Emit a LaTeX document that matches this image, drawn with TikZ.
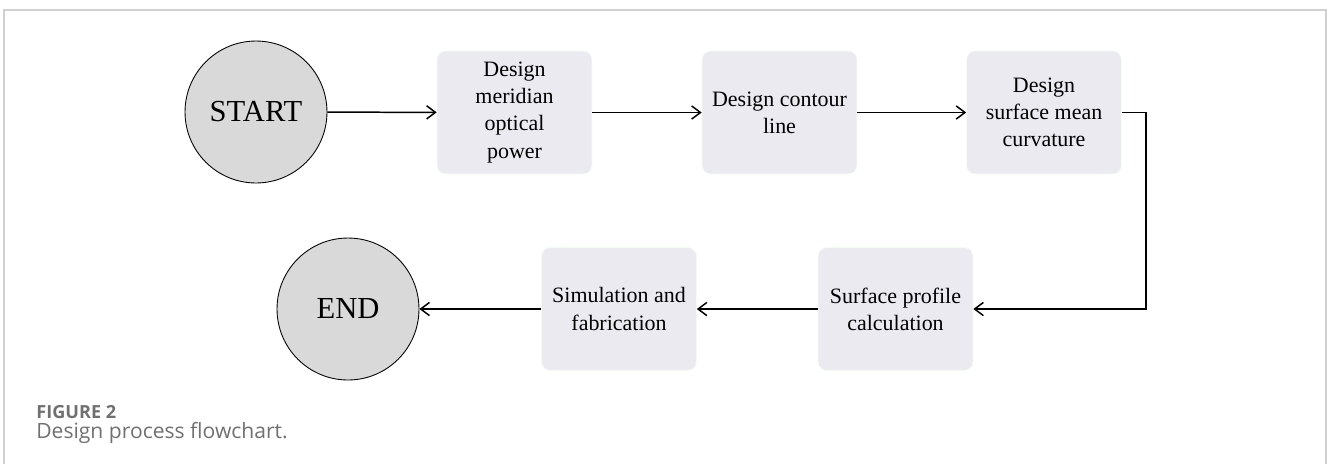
\documentclass[tikz,border=0pt]{standalone}
\usepackage{fontspec}
\setmainfont{Liberation Serif}
\newfontfamily\captionfont{Open Sans}
\usepackage{xcolor}
\usetikzlibrary{arrows.meta,positioning}
\definecolor{stepfill}{RGB}{236,234,241}
\definecolor{termfill}{RGB}{217,217,217}
\definecolor{framegray}{RGB}{208,208,208}
\definecolor{capgray}{RGB}{112,112,112}

\begin{document}
\begin{tikzpicture}[x=0.02cm, y=-0.02cm,
        terminal/.style={circle, draw=black, fill=termfill, line width=0.5pt,
            minimum size=2.84cm, inner sep=0pt, font=\fontsize{17.4}{21}\selectfont},
        stepbox/.style={rectangle, rounded corners=5pt, draw=stepfill!80!green!20,
            fill=stepfill, minimum width=3.1cm, minimum height=2.46cm, inner sep=2pt,
            align=center, font=\fontsize{12.5}{15.4}\selectfont},
        flow/.style={-{Straight Barb[length=5pt,width=7.5pt]}, line width=0.85pt}]
        \useasboundingbox (0,0) rectangle (1328,464);

        % Frame
        \draw[framegray, line width=0.8pt] (4,464) -- (4,10) -- (1326,10) -- (1326,464);

        % Top row
        \node[terminal] (start) at (256,112) {START};
        \node[stepbox] (power) at (514.5,112.5) {Design\\meridian\\optical\\power};
        \node[stepbox] (contour) at (779.5,112.5) {Design contour\\line};
        \node[stepbox] (curv) at (1044,112.5) {Design\\surface mean\\curvature};

        % Bottom row
        \node[stepbox] (profile) at (895.5,309) {Surface profile\\calculation};
        \node[stepbox] (simfab) at (619,309) {Simulation and\\fabrication};
        \node[terminal] (end) at (348,309) {END};

        % Connectors
        \draw[flow] (start) -- (power);
        \draw[flow] (power) -- (contour);
        \draw[flow] (contour) -- (curv);
        \coordinate (turn) at (1146,112.5);
        \draw[flow] (curv.east) -- (turn) |- (profile.east);
        \draw[flow] (profile) -- (simfab);
        \draw[flow] (simfab) -- (end);

        % Caption
        \node[anchor=base west, inner sep=0pt, text=capgray,
            font=\captionfont\bfseries\fontsize{10.3}{12}\selectfont] (fig) at (36,418) {FIGURE 2};
        \node[anchor=base west, inner sep=0pt, text=capgray,
            font=\captionfont\fontsize{12}{14}\selectfont] (cap) at (36,438) {Design process flowchart.};
    \end{tikzpicture}
\end{document}
